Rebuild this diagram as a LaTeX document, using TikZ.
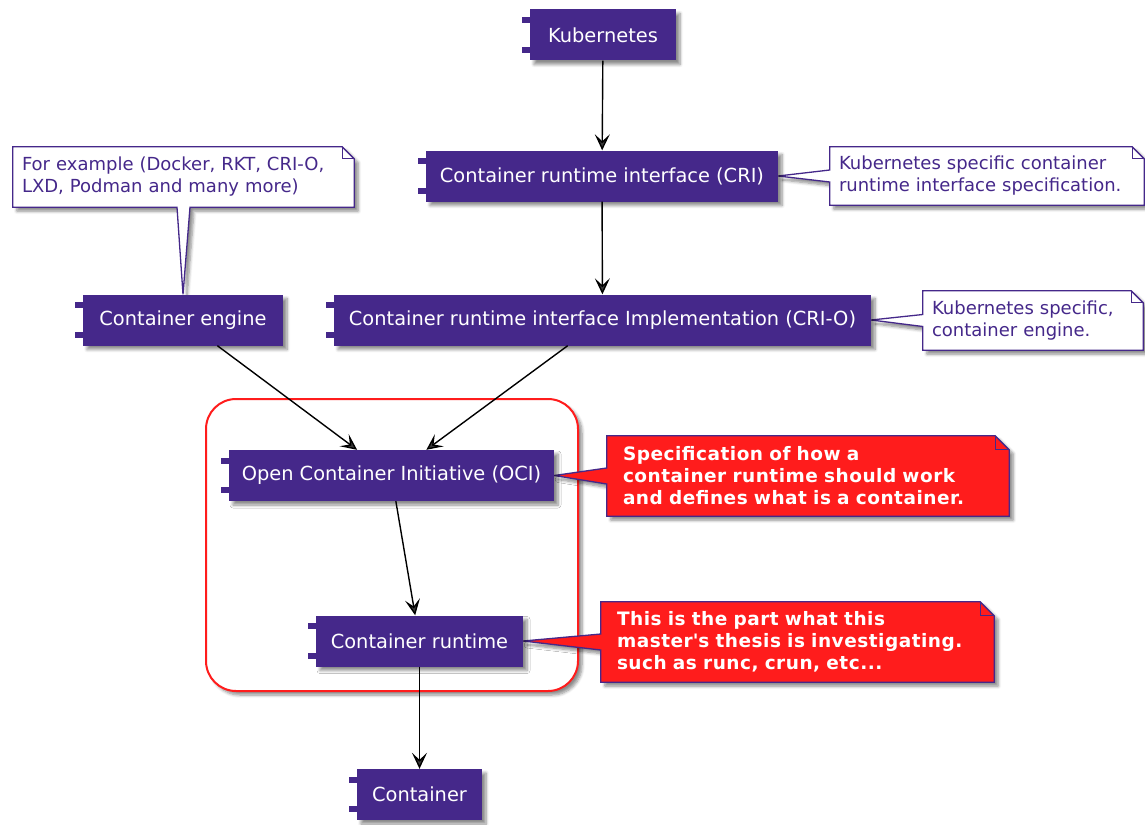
\documentclass[tikz,border=0pt]{standalone}
\usepackage{fontspec}
\setmainfont{DejaVu Sans}
\newfontfamily\notebold[LetterSpace=2.7]{DejaVu Sans Bold}
\usetikzlibrary{arrows.meta,shadows.blur}
\definecolor{umlpurple}{HTML}{45288A}
\definecolor{umlred}{HTML}{FF1C1C}
\pgfdeclarelayer{background}
\pgfsetlayers{background,main}
\tikzset{
  umlshadow/.style={blur shadow={shadow xshift=4pt,shadow yshift=-4pt,shadow blur steps=6,
    shadow blur radius=3pt,shadow opacity=45}},
  comp/.style={rectangle,fill=umlpurple,text=white,minimum height=51pt,inner sep=0pt,
    font=\fontsize{19.4}{23}\selectfont,umlshadow},
  note/.style={rectangle,inner xsep=9pt,inner ysep=0pt,align=left,text=umlpurple,
    font=\fontsize{18}{22}\selectfont},
  rednote/.style={note,text=white,font=\fontsize{18.5}{22}\notebold},
  noteline/.style={draw=umlpurple,line width=1.3pt,fill=white,umlshadow},
  rednoteline/.style={noteline,fill=umlred},
  pkg/.style={draw=umlred,fill=white,line width=2pt,rounded corners=30pt,umlshadow},
  link/.style={-{Stealth[length=16pt,width=15pt,inset=7pt]},line width=1.4pt}
}
\begin{document}
\begin{tikzpicture}[x=1pt,y=-1pt]
  \useasboundingbox (0,0) rectangle (1145,824);
  \clip (0,0) rectangle (1145,824);

  \node[comp,minimum width=146pt] (kube) at (603,35) {Kubernetes};
  \node[comp,minimum width=352pt] (cri) at (602,176) {Container runtime interface (CRI)};
  \node[comp,minimum width=537pt] (crio) at (602.5,320) {Container runtime interface Implementation (CRI-O)};
  \node[comp,minimum width=200pt] (engine) at (183,320) {Container engine};
  \node[comp,minimum width=325pt] (oci) at (391.5,475.5) {Open Container Initiative (OCI)};
  \node[comp,minimum width=207pt] (runtime) at (419.5,641) {Container runtime};
  \node[comp,minimum width=125pt] (container) at (419.5,794.5) {Container};

  \foreach \n in {kube,cri,crio,engine,oci,runtime,container} {
    \fill[umlpurple] ([xshift=-8pt,yshift=-8pt]\n.north west) rectangle ([yshift=-14pt]\n.north west);
    \fill[umlpurple] ([xshift=-8pt,yshift=8pt]\n.south west) rectangle ([yshift=14pt]\n.south west);
  }

  \node[note,minimum width=341pt,minimum height=60pt,text width=323pt] (exnote) at (183.5,177)
    {For example (Docker, RKT, CRI-O,\\LXD, Podman and many more)};
  \node[note,minimum width=314pt,minimum height=58pt,text width=296pt] (crinote) at (987,176)
    {Kubernetes specific container\\runtime interface specification.};
  \node[note,minimum width=220pt,minimum height=59pt,text width=202pt] (crionote) at (1033,320.5)
    {Kubernetes specific,\\container engine.};
  \node[rednote,minimum width=402pt,minimum height=80pt,text width=370pt,inner xsep=16pt] (ocinote) at (808,476)
    {Specification of how a\\container runtime should work\\and defines what is a container.};
  \node[rednote,minimum width=393pt,minimum height=80pt,text width=361pt,inner xsep=16pt] (runnote) at (797.5,642)
    {This is the part what this\\master\textquotesingle s thesis is investigating.\\such as runc, crun, etc...};

  \begin{pgfonlayer}{background}
    \node[pkg,minimum width=372pt,minimum height=292pt] (pkgbox) at (392,545) {};
    \draw[noteline] (exnote.north west) -- ([xshift=-12pt]exnote.north east)
      -- ([yshift=-12pt]exnote.north east) -- (exnote.south east)
      -- ([xshift=6.5pt]exnote.south) -- (engine.north) -- ([xshift=-6.5pt]exnote.south)
      -- (exnote.south west) -- cycle;
    \draw[noteline] (crinote.north west) -- ([xshift=-12pt]crinote.north east)
      -- ([yshift=-12pt]crinote.north east) -- (crinote.south east)
      -- (crinote.south west) -- ([yshift=-6pt]crinote.west) -- (cri.east)
      -- ([yshift=6pt]crinote.west) -- cycle;
    \draw[noteline] (crionote.north west) -- ([xshift=-12pt]crionote.north east)
      -- ([yshift=-12pt]crionote.north east) -- (crionote.south east)
      -- (crionote.south west) -- ([yshift=-6pt]crionote.west) -- (crio.east)
      -- ([yshift=6pt]crionote.west) -- cycle;
    \draw[rednoteline] (ocinote.north west) -- ([xshift=-14pt]ocinote.north east)
      -- ([yshift=-14pt]ocinote.north east) -- (ocinote.south east)
      -- (ocinote.south west) -- ([yshift=-8pt]ocinote.west) -- (oci.east)
      -- ([yshift=8pt]ocinote.west) -- cycle;
    \draw[rednoteline] (runnote.north west) -- ([xshift=-14pt]runnote.north east)
      -- ([yshift=-14pt]runnote.north east) -- (runnote.south east)
      -- (runnote.south west) -- ([yshift=-8pt]runnote.west) -- (runtime.east)
      -- ([yshift=8pt]runnote.west) -- cycle;
  \end{pgfonlayer}
  \draw[umlpurple,line width=1.3pt] ([xshift=-12pt]exnote.north east) |- ([yshift=-12pt]exnote.north east);
  \draw[umlpurple,line width=1.3pt] ([xshift=-12pt]crinote.north east) |- ([yshift=-12pt]crinote.north east);
  \draw[umlpurple,line width=1.3pt] ([xshift=-12pt]crionote.north east) |- ([yshift=-12pt]crionote.north east);
  \draw[umlpurple,line width=1.3pt] ([xshift=-14pt]ocinote.north east) |- ([yshift=-14pt]ocinote.north east);
  \draw[umlpurple,line width=1.3pt] ([xshift=-14pt]runnote.north east) |- ([yshift=-14pt]runnote.north east);

  \draw[link] (kube) -- (cri);
  \draw[link] (cri) -- (crio);
  \draw[link] (engine) -- (oci);
  \draw[link] (crio) -- (oci);
  \draw[link] (oci) -- (runtime);
  \draw[link] (runtime) -- (container);
\end{tikzpicture}
\end{document}
